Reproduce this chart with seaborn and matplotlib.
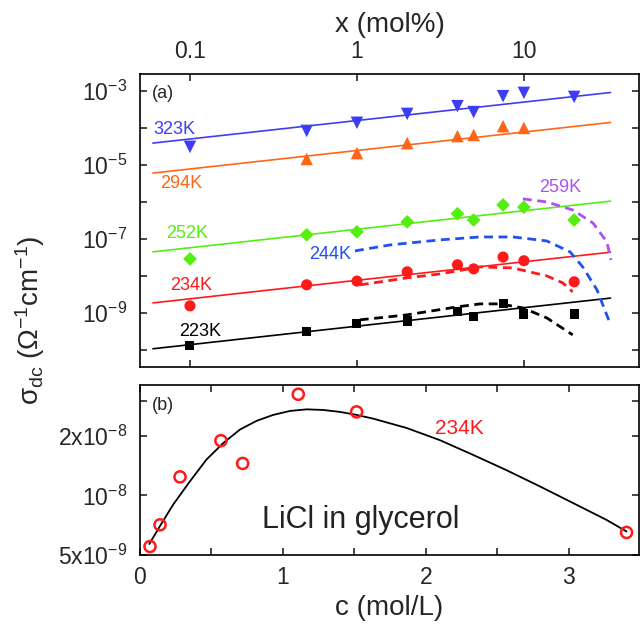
import numpy as np
import pandas as pd
import matplotlib
matplotlib.use("Agg")
import matplotlib.pyplot as plt
from matplotlib.ticker import FixedLocator, FuncFormatter, NullLocator
import seaborn as sns

# ---------------- data: panel (a) ----------------
x_mol = [0.1, 0.5, 1.0, 2.0, 4.0, 5.0, 7.5, 10.0, 20.0]
x_mol_294 = [0.5, 1.0, 2.0, 4.0, 5.0, 7.5, 10.0]
s_323 = [3.09e-5, 8.32e-5, 1.38e-4, 2.40e-4, 3.89e-4, 2.69e-4, 7.24e-4, 8.91e-4, 6.92e-4]
s_294 = [1.45e-5, 2.09e-5, 3.89e-5, 6.03e-5, 6.46e-5, 1.12e-4, 1.00e-4]
s_252 = [2.88e-8, 1.29e-7, 1.55e-7, 2.88e-7, 4.79e-7, 3.24e-7, 8.32e-7, 7.24e-7, 3.24e-7]
s_234 = [1.55e-9, 5.75e-9, 7.24e-9, 1.29e-8, 2.00e-8, 1.55e-8, 3.24e-8, 2.57e-8, 6.92e-9]
s_223 = [1.29e-10, 3.09e-10, 5.01e-10, 6.03e-10, 1.12e-9, 7.76e-10, 1.74e-9, 9.33e-10, 9.33e-10]

# power-law fit lines (end points)
fit_x = [0.06, 33.0]
fit_323 = [3.9e-5, 9.1e-4]
fit_294 = [6.03e-6, 1.41e-4]
fit_252 = [4.47e-8, 1.05e-6]
fit_234 = [1.86e-9, 4.37e-8]
fit_223 = [1.07e-10, 2.51e-9]

# model curves (dashed)
m244_x = [0.973, 1.58, 3.14, 5.46, 8.59, 13.7, 18.9, 22.5, 27.4, 32.7]
m244_y = [4.74e-8, 6.89e-8, 9.40e-8, 1.13e-7, 1.13e-7, 8.83e-8, 4.46e-8, 1.75e-8, 4.19e-9, 5.37e-10]
m234_x = [1.04, 1.99, 3.14, 5.46, 8.59, 13.7, 17.1, 19.6]
m234_y = [5.71e-9, 8.83e-9, 1.13e-8, 1.75e-8, 1.64e-8, 1.00e-8, 6.47e-9, 3.70e-9]
m223_x = [1.04, 1.99, 3.97, 5.46, 7.18, 9.86, 13.7, 19.6]
m223_y = [6.47e-10, 8.83e-10, 1.45e-9, 1.75e-9, 1.75e-9, 1.36e-9, 7.33e-10, 2.54e-10]
m259_x = [9.86, 13.7, 19.6, 25.9, 31.4, 33.2]
m259_y = [1.21e-6, 1.00e-6, 6.08e-7, 2.70e-7, 8.30e-8, 2.70e-8]

# ---------------- data: panel (b) ----------------
c_pts = [0.07, 0.14, 0.28, 0.566, 0.718, 1.107, 1.515, 3.403]
sb_pts = [5.52e-9, 7.10e-9, 1.24e-8, 1.89e-8, 1.45e-8, 3.24e-8, 2.64e-8, 6.50e-9]
c_fit = [0.065, 0.140, 0.233, 0.350, 0.466, 0.583, 0.699, 0.816, 0.932, 1.049, 1.166,
         1.282, 1.399, 1.515, 1.632, 1.865, 2.098, 2.331, 2.564, 2.797, 3.030, 3.263, 3.403]
sb_fit = [5.68e-9, 7.01e-9, 9.01e-9, 1.18e-8, 1.52e-8, 1.84e-8, 2.15e-8, 2.38e-8, 2.55e-8,
          2.67e-8, 2.72e-8, 2.70e-8, 2.64e-8, 2.55e-8, 2.44e-8, 2.19e-8, 1.90e-8, 1.60e-8,
          1.34e-8, 1.11e-8, 9.14e-9, 7.52e-9, 6.57e-9]

# ---------------- style ----------------
sns.set_theme(style="ticks")
plt.rcParams['font.family'] = ['Liberation Sans', 'DejaVu Sans']
plt.rcParams['mathtext.fontset'] = 'custom'
plt.rcParams['mathtext.rm'] = 'Liberation Sans'
plt.rcParams['mathtext.it'] = 'Liberation Sans:italic'
plt.rcParams['axes.linewidth'] = 1.2
plt.rcParams['axes.edgecolor'] = 'black'

C323 = '#3d3df5'
C294 = '#ff661a'
C252 = '#55ee11'
C234 = '#ff1a1a'
C223 = 'black'
C244 = '#2050f0'
C259 = '#b050f0'

fig = plt.figure(figsize=(6.4, 6.37), dpi=100)
axa = fig.add_axes([140/640, 1-367/637, 499/640, 293/637])
axb = fig.add_axes([140/640, 1-555/637, 499/640, 170/637])

# ---------------- panel (a) ----------------
axa.set_xscale('log')
axa.set_yscale('log')
axa.set_xlim(0.0502, 48.9)
axa.set_ylim(3.44e-11, 2.88e-3)

series = [
    (x_mol, s_323, fit_323, C323, 'v', 9),
    (x_mol_294, s_294, fit_294, C294, '^', 9),
    (x_mol, s_252, fit_252, C252, 'D', 7),
    (x_mol, s_234, fit_234, C234, 'o', 8),
    (x_mol, s_223, fit_223, C223, 's', 6.5),
]
for xs, ys, fy, col, mk, ms in series:
    axa.plot(fit_x, fy, color=col, lw=1.2, zorder=2)
    sns.scatterplot(x=xs, y=ys, ax=axa, color=col, marker=mk, s=(ms)**2,
                    edgecolor='none', linewidth=0, zorder=3, legend=False)

dash = (0, (3.2, 2.0))
axa.plot(m244_x, m244_y, color=C244, lw=2.0, ls=dash, zorder=2)
axa.plot(m234_x, m234_y, color=C234, lw=2.0, ls=dash, zorder=2)
axa.plot(m223_x, m223_y, color=C223, lw=2.0, ls=dash, zorder=2)
axa.plot(m259_x, m259_y, color=C259, lw=2.0, ls=dash, zorder=2)

tfs = 13
axa.text(0.060, 9.3e-5, '323K', color=C323, fontsize=tfs, va='center', ha='left')
axa.text(0.066, 3.2e-6, '294K', color=C294, fontsize=tfs, va='center', ha='left')
axa.text(0.072, 1.37e-7, '252K', color=C252, fontsize=tfs, va='center', ha='left')
axa.text(0.516, 3.7e-8, '244K', color=C244, fontsize=tfs, va='center', ha='left')
axa.text(0.076, 5.4e-9, '234K', color=C234, fontsize=tfs, va='center', ha='left')
axa.text(0.086, 3.1e-10, '223K', color=C223, fontsize=tfs, va='center', ha='left')
axa.text(12.3, 2.4e-6, '259K', color=C259, fontsize=tfs, va='center', ha='left')
axa.text(0.024, 0.935, '(a)', transform=axa.transAxes, fontsize=13, va='center', ha='left')

axa.xaxis.set_major_locator(FixedLocator([0.1, 1, 10]))
axa.xaxis.set_minor_locator(NullLocator())
axa.xaxis.set_major_formatter(FuncFormatter(lambda v, p: {0.1: '0.1', 1: '1', 10: '10'}.get(round(v, 3), '')))
yt = [1e-10, 1e-9, 1e-8, 1e-7, 1e-6, 1e-5, 1e-4, 1e-3]
axa.yaxis.set_major_locator(FixedLocator(yt))
axa.yaxis.set_minor_locator(NullLocator())
lab = {-9: '$\\mathregular{10^{-9}}$', -7: '$\\mathregular{10^{-7}}$',
       -5: '$\\mathregular{10^{-5}}$', -3: '$\\mathregular{10^{-3}}$'}
axa.yaxis.set_major_formatter(FuncFormatter(lambda v, p: lab.get(int(round(np.log10(v))), '')))
axa.tick_params(which='both', direction='in', top=True, bottom=True, left=True, right=True,
                labeltop=True, labelbottom=False, length=5, width=1.2, labelsize=16.5)
axa.tick_params(axis='y', pad=9)
axa.tick_params(axis='x', pad=8)
axa.xaxis.set_label_position('top')
axa.set_xlabel('x (mol%)', fontsize=20, labelpad=6)

# ---------------- panel (b) ----------------
axb.set_yscale('log')
axb.set_xlim(0, 3.49)
axb.set_ylim(5.0e-9, 3.61e-8)
sns.lineplot(x=c_fit, y=sb_fit, ax=axb, color='black', lw=1.3, sort=False, estimator=None, zorder=2)
sns.scatterplot(x=c_pts, y=sb_pts, ax=axb, marker='o', s=8**2, facecolor='none',
                edgecolor=C234, linewidth=1.8, zorder=3, legend=False)
axb.text(2.06, 2.17e-8, '234K', color=C234, fontsize=15, va='center', ha='left')
axb.text(0.85, 7.5e-9, 'LiCl in glycerol', color='#222222', fontsize=22, va='center', ha='left')
axb.text(0.024, 0.88, '(b)', transform=axb.transAxes, fontsize=13, va='center', ha='left')

axb.xaxis.set_major_locator(FixedLocator([0, 1, 2, 3]))
axb.xaxis.set_minor_locator(FixedLocator([0.5, 1.5, 2.5]))
axb.yaxis.set_major_locator(FixedLocator([5e-9, 1e-8, 2e-8, 3e-8]))
axb.yaxis.set_minor_locator(NullLocator())
blab = {5e-9: '$\\mathregular{5x10^{-9}}$', 1e-8: '$\\mathregular{10^{-8}}$', 2e-8: '$\\mathregular{2x10^{-8}}$'}
axb.yaxis.set_major_formatter(FuncFormatter(lambda v, p: next((t for k, t in blab.items() if abs(v-k)/k < 1e-3), '')))
axb.tick_params(which='both', direction='in', top=True, bottom=True, left=True, right=True,
                length=5, width=1.2, labelsize=16.5)
axb.tick_params(axis='y', pad=9)
axb.tick_params(axis='x', pad=8)
axb.set_xlabel('c (mol/L)', fontsize=20, labelpad=4)
axb.set_ylabel('')

fig.text(30/640, 1-320/637, 'σ$_{\\mathregular{dc}}$ (Ω$^{\\mathregular{-1}}$cm$^{\\mathregular{-1}}$)',
         rotation=90, fontsize=20, ha='center', va='center')

fig.savefig('out.png', dpi=100)
